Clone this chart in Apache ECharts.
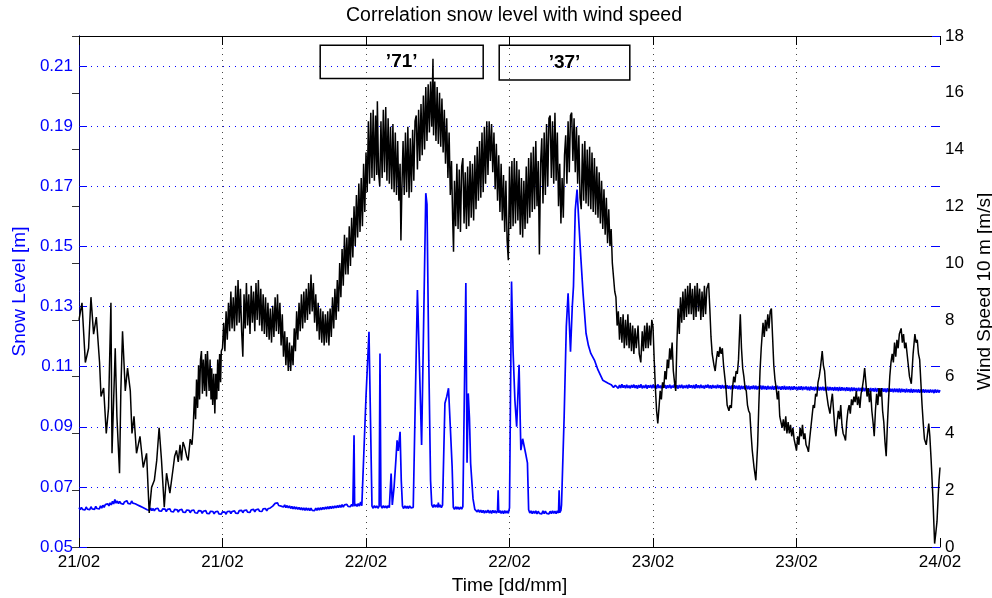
<!DOCTYPE html>
<html><head><meta charset="utf-8">
<script src="https://cdn.jsdelivr.net/npm/echarts/dist/echarts.min.js"></script>
<style>html,body{margin:0;padding:0;background:#fff;overflow:hidden}#c{width:992px;height:598px}</style>
</head><body><div id="c"></div>
<script>
// x axis: hours since 21/02 00:00
const xTickLabels = ['21/02','21/02','22/02','22/02','23/02','23/02','24/02'];

// Snow level [m] : [hour, value]
const snowLevel = [
[0,0.0631],[0.1,0.0624],[0.2,0.0632],[0.3,0.0625],[0.4,0.0630],[0.5,0.0623],[0.6,0.0633],[0.7,0.0626],[0.8,0.0631],[0.9,0.0624],[1,0.0634],[1.1,0.0627],[1.2,0.0632],[1.3,0.0625],[1.4,0.0635],[1.5,0.0628],[1.6,0.0633],[1.7,0.0627],[1.8,0.0637],[1.9,0.0629],
[2,0.0639],[2.1,0.0632],[2.2,0.0641],[2.3,0.0635],[2.4,0.0644],[2.5,0.0637],[2.6,0.0647],[2.7,0.0640],[2.8,0.0652],[2.9,0.0643],[3,0.0658],[3.1,0.0646],[3.2,0.0653],[3.3,0.0644],[3.4,0.0652],[3.5,0.0645],[3.6,0.0651],[3.7,0.0642],[3.8,0.0650],[3.9,0.0644],
[4,0.0654],[4.1,0.0645],[4.2,0.0651],[4.3,0.0643],[4.4,0.0653],[4.5,0.0646],[4.6,0.0652],[4.7,0.0644],[4.8,0.0648],[4.9,0.0640],[5,0.0645],[5.1,0.0636],[5.2,0.0640],[5.3,0.0632],[5.4,0.0637],[5.5,0.0628],[5.6,0.0633],[5.7,0.0624],[5.8,0.0630],[5.9,0.0622],
[6,0.0629],[6.1,0.0621],[6.2,0.0628],[6.3,0.0620],[6.4,0.0627],[6.5,0.0622],[6.6,0.0629],[6.7,0.0620],[6.8,0.0626],[6.9,0.0619],[7,0.0627],[7.1,0.0621],[7.2,0.0626],[7.3,0.0618],[7.4,0.0625],[7.5,0.0620],[7.6,0.0627],[7.7,0.0618],[7.8,0.0624],[7.9,0.0617],
[8,0.0625],[8.1,0.0619],[8.2,0.0624],[8.3,0.0616],[8.4,0.0623],[8.5,0.0618],[8.6,0.0625],[8.7,0.0616],[8.8,0.0622],[8.9,0.0615],[9,0.0623],[9.1,0.0617],[9.2,0.0622],[9.3,0.0614],[9.4,0.0621],[9.5,0.0616],[9.6,0.0623],[9.7,0.0614],[9.8,0.0620],[9.9,0.0613],
[10,0.0621],[10.1,0.0615],[10.2,0.0620],[10.3,0.0612],[10.4,0.0619],[10.5,0.0614],[10.6,0.0621],[10.7,0.0612],[10.8,0.0618],[10.9,0.0611],[11,0.0619],[11.1,0.0613],[11.2,0.0618],[11.3,0.0610],[11.4,0.0617],[11.5,0.0612],[11.6,0.0619],[11.7,0.0610],[11.8,0.0616],[11.9,0.0609],
[12,0.0617],[12.1,0.0611],[12.2,0.0616],[12.3,0.0609],[12.4,0.0618],[12.5,0.0612],[12.6,0.0619],[12.7,0.0611],[12.8,0.0618],[12.9,0.0612],[13,0.0620],[13.1,0.0613],[13.2,0.0619],[13.3,0.0612],[13.4,0.0621],[13.5,0.0615],[13.6,0.0622],[13.7,0.0614],[13.8,0.0621],[13.9,0.0615],
[14,0.0623],[14.1,0.0616],[14.2,0.0622],[14.3,0.0615],[14.4,0.0624],[14.5,0.0618],[14.6,0.0625],[14.7,0.0617],[14.8,0.0624],[14.9,0.0618],[15,0.0626],[15.1,0.0619],[15.2,0.0625],[15.3,0.0618],[15.4,0.0627],[15.5,0.0621],[15.6,0.0628],[15.7,0.0620],[15.8,0.0627],[15.9,0.0621],
[16,0.0630],[16.1,0.0627],[16.2,0.0636],[16.3,0.0633],[16.4,0.0645],[16.5,0.0640],[16.6,0.0647],[16.7,0.0638],[16.8,0.0644],[16.9,0.0636],[17,0.0642],[17.1,0.0633],[17.2,0.0640],[17.3,0.0631],[17.4,0.0638],[17.5,0.0630],[17.6,0.0637],[17.7,0.0628],[17.8,0.0635],[17.9,0.0627],
[18,0.0634],[18.1,0.0626],[18.2,0.0633],[18.3,0.0625],[18.4,0.0632],[18.5,0.0624],[18.6,0.0631],[18.7,0.0623],[18.8,0.0630],[18.9,0.0622],[19,0.0630],[19.1,0.0622],[19.2,0.0629],[19.3,0.0621],[19.4,0.0629],[19.5,0.0622],[19.6,0.0628],[19.7,0.0621],[19.8,0.0629],[19.9,0.0622],
[20,0.0630],[20.1,0.0623],[20.2,0.0631],[20.3,0.0624],[20.4,0.0632],[20.5,0.0625],[20.6,0.0633],[20.7,0.0626],[20.8,0.0634],[20.9,0.0627],[21,0.0635],[21.1,0.0628],[21.2,0.0636],[21.3,0.0629],[21.4,0.0637],[21.5,0.0630],[21.6,0.0638],[21.7,0.0631],[21.8,0.0639],[21.9,0.0632],
[22,0.0641],[22.1,0.0633],[22.2,0.0640],[22.3,0.0634],[22.4,0.0642],[22.5,0.0635],[22.6,0.0641],[22.7,0.0634],[22.8,0.0642],[22.9,0.0635],[23.0,0.0872],[23.05,0.0636],[23.15,0.0643],[23.25,0.0635],[23.35,0.0644],[23.45,0.0636],[23.55,0.0650],[23.65,0.0637],[23.72,0.0642],
[24.0,0.1000],[24.25,0.1216],[24.5,0.0636],[24.6,0.0629],[24.7,0.0638],[24.8,0.0630],[24.9,0.0637],[25.0,0.0629],[25.1,0.0636],[25.17,0.1144],[25.25,0.0637],[25.35,0.0629],[25.45,0.0638],[25.55,0.0630],[25.65,0.0637],[25.75,0.0629],[25.85,0.0638],[25.95,0.0631],[26.05,0.0636],[26.1,0.0744],[26.2,0.0640],[26.35,0.0700],[26.5,0.0790],[26.6,0.0855],[26.7,0.0820],[26.85,0.0883],[26.95,0.0720],[27.05,0.0636],[27.15,0.0628],[27.25,0.0637],[27.35,0.0629],[27.45,0.0636],[27.55,0.0628],[27.65,0.0637],[27.75,0.0630],[27.85,0.0636],[27.95,0.0632],
[28.3,0.1355],[28.65,0.0839],[29.0,0.1677],[29.1,0.1640],[29.25,0.1120],[29.4,0.0720],[29.5,0.0640],[29.6,0.0632],[29.7,0.0641],[29.8,0.0633],[29.9,0.0640],[30.0,0.0632],[30.05,0.0648],[30.1,0.0633],[30.2,0.0640],[30.3,0.0631],[30.4,0.0639],[30.47,0.0634],[30.6,0.0978],[30.75,0.1000],[30.9,0.1028],[31.05,0.0900],[31.2,0.0770],[31.3,0.0632],[31.4,0.0625],[31.5,0.0634],[31.6,0.0626],[31.7,0.0633],[31.8,0.0625],[31.9,0.0633],[32.0,0.0626],[32.1,0.0634],[32.15,0.0640],
[32.35,0.1378],[32.45,0.0780],[32.55,0.1011],[32.65,0.0930],[32.75,0.0778],[32.95,0.0660],[33.1,0.0625],[33.2,0.0626],[33.3,0.0617],[33.4,0.0624],[33.5,0.0615],[33.6,0.0623],[33.7,0.0614],[33.8,0.0622],[33.9,0.0613],[34.0,0.0621],[34.1,0.0614],[34.2,0.0623],[34.3,0.0613],[34.4,0.0621],[34.5,0.0612],[34.6,0.0622],[34.7,0.0614],[34.8,0.0621],[34.9,0.0613],[35.0,0.0620],[35.05,0.0689],[35.1,0.0614],[35.2,0.0621],[35.3,0.0612],[35.4,0.0620],[35.5,0.0611],[35.6,0.0621],[35.7,0.0613],[35.8,0.0620],[35.9,0.0612],[36.0,0.0630],
[36.17,0.1383],[36.3,0.1150],[36.45,0.0989],[36.6,0.0900],[36.8,0.1106],[36.95,0.0822],[37.1,0.0860],[37.35,0.0811],[37.5,0.0780],[37.6,0.0624],[37.7,0.0613],[37.8,0.0620],[37.9,0.0611],[38.0,0.0619],[38.1,0.0612],[38.2,0.0620],[38.3,0.0610],[38.4,0.0619],[38.5,0.0612],[38.6,0.0618],[38.7,0.0610],[38.8,0.0620],[38.9,0.0611],[39.0,0.0619],[39.1,0.0612],[39.2,0.0618],[39.3,0.0610],[39.4,0.0619],[39.5,0.0611],[39.6,0.0620],[39.7,0.0612],[39.8,0.0619],[39.9,0.0611],[40.0,0.0620],[40.1,0.0613],[40.15,0.0689],[40.2,0.0614],[40.3,0.0622],[40.35,0.0640],
[40.57,0.0933],[40.75,0.1233],[40.9,0.1344],[41.1,0.1150],[41.25,0.1300],[41.35,0.1367],[41.5,0.1622],[41.65,0.1689],[41.8,0.1580],[41.96,0.1466],[42.15,0.1344],[42.4,0.1211],[42.6,0.1170],[42.8,0.1144],[43.1,0.1122],[43.4,0.1089],[43.8,0.1055],[44.25,0.1045],[44.5,0.1040],[44.7,0.1031],[44.85,0.1038],
[45.0,0.1040],[45.1,0.1028],[45.2,0.1039],[45.3,0.1029],[45.4,0.1041],[45.5,0.1030],[45.6,0.1038],[45.7,0.1028],[45.8,0.1040],[45.9,0.1029],[46.0,0.1037],[46.1,0.1028],[46.2,0.1039],[46.3,0.1030],[46.4,0.1040],[46.5,0.1029],[46.6,0.1038],[46.7,0.1027],[46.8,0.1039],[46.9,0.1030],
[47.0,0.1041],[47.1,0.1028],[47.2,0.1037],[47.3,0.1029],[47.4,0.1040],[47.5,0.1027],[47.6,0.1038],[47.7,0.1030],[47.8,0.1039],[47.9,0.1028],[48.0,0.1040],[48.1,0.1029],[48.2,0.1038],[48.3,0.1027],[48.4,0.1041],[48.5,0.1029],[48.6,0.1037],[48.7,0.1028],[48.8,0.1040],[48.9,0.1030],
[49.0,0.1039],[49.1,0.1027],[49.2,0.1038],[49.3,0.1029],[49.4,0.1040],[49.5,0.1028],[49.6,0.1037],[49.7,0.1030],[49.8,0.1041],[49.9,0.1028],[50.0,0.1038],[50.1,0.1027],[50.2,0.1039],[50.3,0.1029],[50.4,0.1040],[50.5,0.1028],[50.6,0.1037],[50.7,0.1029],[50.8,0.1039],[50.9,0.1027],
[51.0,0.1040],[51.1,0.1030],[51.2,0.1038],[51.3,0.1028],[51.4,0.1039],[51.5,0.1027],[51.6,0.1041],[51.7,0.1029],[51.8,0.1038],[51.9,0.1028],[52.0,0.1040],[52.1,0.1029],[52.2,0.1037],[52.3,0.1027],[52.4,0.1039],[52.5,0.1030],[52.6,0.1040],[52.7,0.1028],[52.8,0.1038],[52.9,0.1027],
[53.0,0.1039],[53.1,0.1029],[53.2,0.1037],[53.3,0.1028],[53.4,0.1040],[53.5,0.1029],[53.6,0.1038],[53.7,0.1027],[53.8,0.1039],[53.9,0.1028],[54.0,0.1037],[54.1,0.1026],[54.2,0.1038],[54.3,0.1027],[54.4,0.1036],[54.5,0.1025],[54.6,0.1037],[54.7,0.1026],[54.8,0.1038],[54.9,0.1027],
[55.0,0.1036],[55.1,0.1025],[55.2,0.1037],[55.3,0.1024],[55.4,0.1036],[55.5,0.1026],[55.6,0.1035],[55.7,0.1024],[55.8,0.1037],[55.9,0.1025],[56.0,0.1036],[56.1,0.1024],[56.2,0.1035],[56.3,0.1026],[56.4,0.1037],[56.5,0.1025],[56.6,0.1036],[56.7,0.1024],[56.8,0.1035],[56.9,0.1025],
[57.0,0.1037],[57.1,0.1024],[57.2,0.1036],[57.3,0.1025],[57.4,0.1035],[57.5,0.1023],[57.6,0.1036],[57.7,0.1025],[57.8,0.1034],[57.9,0.1024],[58.0,0.1036],[58.1,0.1023],[58.2,0.1035],[58.3,0.1024],[58.4,0.1036],[58.5,0.1025],[58.6,0.1034],[58.7,0.1023],[58.8,0.1035],[58.9,0.1024],
[59.0,0.1036],[59.1,0.1023],[59.2,0.1034],[59.3,0.1024],[59.4,0.1035],[59.5,0.1022],[59.6,0.1034],[59.7,0.1023],[59.8,0.1035],[59.9,0.1024],[60.0,0.1033],[60.1,0.1022],[60.2,0.1034],[60.3,0.1023],[60.4,0.1035],[60.5,0.1022],[60.6,0.1033],[60.7,0.1024],[60.8,0.1034],[60.9,0.1022],
[61.0,0.1033],[61.1,0.1021],[61.2,0.1034],[61.3,0.1023],[61.4,0.1032],[61.5,0.1021],[61.6,0.1033],[61.7,0.1022],[61.8,0.1034],[61.9,0.1021],[62.0,0.1032],[62.1,0.1022],[62.2,0.1033],[62.3,0.1021],[62.4,0.1032],[62.5,0.1020],[62.6,0.1033],[62.7,0.1021],[62.8,0.1032],[62.9,0.1022],
[63.0,0.1031],[63.1,0.1020],[63.2,0.1032],[63.3,0.1021],[63.4,0.1031],[63.5,0.1019],[63.6,0.1032],[63.7,0.1020],[63.8,0.1031],[63.9,0.1021],[64.0,0.1030],[64.1,0.1019],[64.2,0.1031],[64.3,0.1020],[64.4,0.1030],[64.5,0.1018],[64.6,0.1031],[64.7,0.1019],[64.8,0.1030],[64.9,0.1020],
[65.0,0.1029],[65.1,0.1018],[65.2,0.1030],[65.3,0.1019],[65.4,0.1029],[65.5,0.1017],[65.6,0.1030],[65.7,0.1018],[65.8,0.1029],[65.9,0.1019],[66.0,0.1028],[66.1,0.1017],[66.2,0.1029],[66.3,0.1018],[66.4,0.1028],[66.5,0.1017],[66.6,0.1029],[66.7,0.1016],[66.8,0.1028],[66.9,0.1018],
[67.0,0.1027],[67.1,0.1016],[67.2,0.1028],[67.3,0.1017],[67.4,0.1027],[67.5,0.1015],[67.6,0.1028],[67.7,0.1016],[67.8,0.1027],[67.9,0.1017],[68.0,0.1026],[68.1,0.1015],[68.2,0.1027],[68.3,0.1016],[68.4,0.1026],[68.5,0.1015],[68.6,0.1027],[68.7,0.1014],[68.8,0.1026],[68.9,0.1016],
[69.0,0.1025],[69.1,0.1014],[69.2,0.1026],[69.3,0.1015],[69.4,0.1025],[69.5,0.1014],[69.6,0.1026],[69.7,0.1013],[69.8,0.1025],[69.9,0.1015],[70.0,0.1024],[70.1,0.1014],[70.2,0.1025],[70.3,0.1013],[70.4,0.1024],[70.5,0.1014],[70.6,0.1025],[70.7,0.1013],[70.8,0.1024],[70.9,0.1014],
[71.0,0.1023],[71.1,0.1013],[71.2,0.1024],[71.3,0.1014],[71.4,0.1023],[71.5,0.1012],[71.6,0.1024],[71.7,0.1013],[71.8,0.1023],[71.9,0.1014],[72.0,0.1022]
];

// Wind speed 10 m [m/s] : [hour, value]
const windSpeed = [
[0,8.0],[0.25,8.6],[0.53,6.5],[0.8,7.0],[1.0,8.8],[1.22,7.5],[1.45,8.1],[1.72,6.5],[1.84,5.3],[2.06,5.6],[2.28,4.0],[2.47,4.9],[2.67,8.6],[2.76,3.3],[3.03,7.0],[3.17,4.6],[3.39,2.6],[3.5,5.5],[3.64,7.6],[3.87,5.5],[4.06,6.3],[4.29,5.5],[4.43,4.0],[4.6,4.6],[4.81,3.3],[5.1,3.9],[5.37,2.8],[5.65,3.3],[5.87,1.2],[6.07,2.1],[6.3,2.35],[6.5,3.05],[6.7,4.2],[6.9,3.05],[7.13,1.4],[7.32,2.6],[7.6,1.9],[7.88,2.8],[8.0,3.2],[8.15,3.4],[8.3,3.0],[8.45,3.6],[8.57,3.05],[8.7,3.7],[8.85,3.5],[9.0,3.2],[9.13,3.05],[9.3,3.8],[9.45,3.6],
[9.55,4.2],[9.65,5.3],[9.75,4.5],[9.83,5.9],[9.92,4.9],[10.0,6.4],[10.08,5.2],[10.16,6.6],[10.24,6.9],[10.32,5.4],[10.4,6.6],[10.5,5.5],[10.58,6.8],[10.66,5.3],[10.74,6.9],[10.8,6.9],[10.88,5.5],[10.96,6.6],[11.04,5.2],[11.1,6.3],[11.18,5.0],[11.27,6.1],[11.36,4.7],[11.44,6.1],[11.52,5.2],[11.6,6.6],[11.68,5.5],[11.76,6.8],[11.84,5.8],[11.9,6.9],
[12.0,7.0],[12.1,7.9],[12.2,6.9],[12.3,8.3],[12.4,7.3],[12.5,8.6],[12.6,7.6],[12.7,9.0],[12.8,7.7],[12.9,8.8],[13.0,7.6],[13.1,9.2],[13.2,7.8],[13.3,9.4],[13.4,7.9],[13.5,9.1],[13.6,7.6],[13.7,6.7],[13.8,8.9],[13.9,7.7],[14.0,9.3],[14.1,7.8],[14.2,8.9],[14.3,7.5],[14.4,9.2],[14.5,7.9],[14.6,9.0],[14.7,7.6],[14.8,9.3],[14.9,8.0],
[15.0,9.4],[15.1,7.8],[15.2,9.1],[15.3,7.6],[15.4,8.9],[15.5,7.5],[15.6,8.8],[15.7,7.4],[15.8,8.6],[15.9,7.3],[16.0,8.4],[16.1,7.2],[16.2,8.5],[16.3,7.4],[16.4,8.8],[16.5,7.6],[16.6,8.9],[16.7,7.5],[16.8,8.6],[16.9,7.1],[17.0,8.2],[17.1,6.7],[17.2,7.6],[17.3,6.4],[17.4,7.4],[17.5,6.2],[17.6,7.2],[17.7,6.2],[17.8,7.1],[17.9,6.4],
[18.0,7.7],[18.1,6.9],[18.2,8.3],[18.3,7.3],[18.4,8.6],[18.5,7.6],[18.6,8.9],[18.7,7.7],[18.8,9.0],[18.9,7.9],[19.0,9.1],[19.1,8.0],[19.2,9.3],[19.3,8.2],[19.4,9.6],[19.5,8.3],[19.6,9.3],[19.7,7.9],[19.8,8.9],[19.9,7.6],[20.0,8.6],[20.1,7.3],[20.2,8.4],[20.3,7.2],[20.4,8.3],[20.5,7.1],[20.6,8.2],[20.7,7.2],[20.8,8.3],[20.9,7.1],
[21.0,8.4],[21.1,7.4],[21.2,8.8],[21.3,7.7],[21.4,9.1],[21.5,8.0],[21.6,9.4],[21.7,8.3],[21.8,10.0],[21.9,8.8],[22.0,10.5],[22.1,9.2],[22.2,11.0],[22.3,9.6],[22.4,10.9],[22.5,9.6],[22.6,11.3],[22.7,9.9],[22.8,11.6],[22.9,10.2],[23.0,12.0],[23.1,10.6],[23.2,12.4],[23.3,10.9],[23.4,12.8],[23.5,11.1],[23.6,13.0],[23.7,11.3],[23.8,13.5],[23.9,11.8],
[24.0,13.9],[24.1,12.5],[24.2,15.0],[24.3,12.8],[24.4,15.3],[24.5,13.0],[24.6,15.4],[24.7,12.9],[24.8,15.2],[24.9,13.1],[24.95,15.7],[25.05,13.2],[25.15,12.7],[25.25,15.0],[25.35,13.0],[25.45,15.4],[25.55,13.2],[25.65,15.5],[25.75,12.9],[25.85,15.1],[25.95,12.8],[26.05,14.8],[26.15,12.6],[26.25,14.9],[26.35,12.5],[26.45,14.6],[26.55,12.4],[26.65,14.3],[26.75,12.2],[26.85,13.5],[26.92,10.8],
[27.0,12.6],[27.1,14.3],[27.2,12.4],[27.3,14.6],[27.4,12.5],[27.5,14.8],[27.6,12.3],[27.7,14.4],[27.8,12.5],[27.9,14.7],[28.0,12.9],[28.1,15.0],[28.2,15.2],[28.3,13.3],[28.4,15.4],[28.5,13.6],[28.6,15.6],[28.7,13.8],[28.8,15.9],[28.9,14.0],[29.0,16.2],[29.1,14.3],[29.2,16.3],[29.3,14.6],[29.4,16.4],[29.5,14.8],[29.6,17.2],[29.65,14.5],[29.75,16.4],[29.85,14.3],[29.95,16.2],
[30.05,14.2],[30.15,16.0],[30.25,14.1],[30.35,15.8],[30.45,13.9],[30.55,15.4],[30.65,13.5],[30.75,15.1],[30.85,13.0],[30.95,14.6],[31.05,12.4],[31.15,13.6],[31.25,11.5],[31.32,10.4],[31.4,12.9],[31.5,11.3],[31.6,13.5],[31.7,11.2],[31.8,13.3],[31.9,11.1],
[32.0,13.4],[32.1,13.7],[32.2,11.4],[32.3,13.2],[32.4,11.2],[32.5,13.4],[32.6,11.3],[32.7,13.6],[32.8,11.6],[32.9,13.5],[33.0,11.5],[33.1,13.8],[33.2,11.9],[33.3,14.1],[33.4,12.2],[33.5,14.3],[33.6,12.3],[33.7,14.6],[33.8,12.5],[33.9,14.8],
[34.0,12.8],[34.1,15.0],[34.2,13.1],[34.3,15.0],[34.4,13.6],[34.5,14.9],[34.6,13.2],[34.7,14.6],[34.8,12.6],[34.9,14.2],[35.0,12.2],[35.1,13.8],[35.2,11.8],[35.3,13.5],[35.4,11.5],[35.5,13.1],[35.6,11.1],[35.7,12.9],[35.8,10.8],[35.9,10.1],
[36.0,13.4],[36.1,11.2],[36.2,13.6],[36.3,11.3],[36.4,13.7],[36.5,11.4],[36.6,13.6],[36.7,11.5],[36.8,13.3],[36.9,11.0],[37.0,13.0],[37.1,10.9],[37.2,12.9],[37.3,11.2],[37.4,13.4],[37.5,11.4],[37.6,13.7],[37.7,11.6],[37.8,13.9],[37.9,11.8],
[38.0,14.1],[38.1,11.9],[38.2,14.3],[38.3,12.0],[38.4,13.6],[38.5,10.3],[38.6,13.5],[38.7,14.4],[38.8,12.1],[38.9,14.6],[39.0,12.4],[39.1,14.9],[39.2,12.7],[39.3,15.1],[39.4,15.2],[39.5,13.0],[39.6,15.0],[39.7,12.8],[39.8,15.3],[39.9,12.9],
[40.0,14.6],[40.1,12.0],[40.2,13.5],[40.3,11.4],[40.4,13.0],[40.5,11.6],[40.6,13.8],[40.7,14.5],[40.8,12.8],[40.9,15.0],[41.0,13.2],[41.1,15.2],[41.2,15.3],[41.3,13.6],[41.4,15.1],[41.5,13.2],[41.6,14.8],[41.7,12.8],[41.8,14.5],[41.9,12.3],
[42.0,11.9],[42.1,14.2],[42.2,12.2],[42.3,14.3],[42.4,12.1],[42.5,14.0],[42.6,12.0],[42.7,14.1],[42.8,11.9],[42.9,13.9],[43.0,11.8],[43.1,13.7],[43.2,11.7],[43.3,13.4],[43.4,11.6],[43.5,13.2],[43.6,11.4],[43.7,12.9],[43.8,11.2],[43.9,12.6],
[44.0,11.0],[44.1,12.3],[44.2,10.7],[44.3,11.9],[44.4,10.6],[44.5,11.2],[44.6,10.0],[44.7,10.0],[44.8,9.0],[44.9,8.8],
[45.0,7.8],[45.1,8.3],[45.2,7.3],[45.3,8.1],[45.4,7.2],[45.5,8.2],[45.6,7.0],[45.7,8.0],[45.8,7.1],[45.9,8.2],[46.0,7.0],[46.1,7.9],[46.2,6.9],[46.3,7.8],[46.4,6.8],[46.5,7.7],[46.6,7.0],[46.75,7.8],[46.85,6.8],[46.98,6.5],[47.1,7.6],[47.2,6.9],[47.3,7.8],[47.4,7.0],[47.5,7.9],[47.6,7.0],[47.7,7.8],[47.8,7.1],[47.9,8.0],[48.0,7.75],
[48.1,6.6],[48.2,5.6],[48.3,4.8],[48.4,4.35],[48.5,4.9],[48.6,5.5],[48.7,5.2],[48.8,5.8],[48.9,5.6],[49.0,6.2],[49.1,5.9],[49.2,6.6],[49.3,6.3],[49.4,7.0],[49.5,6.6],[49.6,7.2],[49.7,6.2],[49.8,5.8],[49.9,5.5],
[50.0,7.2],[50.1,8.4],[50.2,7.5],[50.3,8.8],[50.4,7.9],[50.5,9.0],[50.6,8.0],[50.7,9.1],[50.8,8.1],[50.9,9.2],[51.0,8.2],[51.1,9.3],[51.2,8.2],[51.3,9.1],[51.4,8.0],[51.5,9.2],[51.6,8.1],[51.7,9.3],[51.8,8.3],[51.9,9.1],[52.0,8.0],[52.1,9.0],[52.2,8.1],[52.3,9.2],[52.4,8.2],[52.5,9.1],[52.65,9.3],[52.75,8.4],[52.85,7.4],[52.95,6.8],
[53.1,6.4],[53.2,6.2],[53.3,6.6],[53.4,6.9],[53.5,6.7],[53.6,7.05],[53.7,6.8],[53.8,7.0],[53.9,6.4],[54.0,6.0],[54.1,5.6],[54.2,5.0],[54.35,4.8],[54.45,5.0],[54.55,4.9],[54.65,5.6],[54.75,6.0],[54.85,5.8],[54.95,6.2],[55.05,6.1],[55.15,6.6],[55.3,8.2],[55.4,7.0],[55.5,6.3],[55.6,6.0],[55.7,5.6],[55.8,5.5],[55.9,5.0],
[56.0,4.8],[56.1,4.7],[56.2,4.0],[56.3,3.4],[56.45,2.8],[56.6,2.35],[56.75,3.6],[56.85,5.0],[56.95,6.2],[57.05,7.0],[57.2,7.9],[57.3,7.4],[57.4,8.0],[57.5,7.6],[57.6,8.2],[57.7,7.7],[57.8,8.3],[57.9,8.4],[58.0,7.4],[58.1,6.4],[58.2,5.9],[58.3,5.6],[58.4,5.2],[58.5,5.5],[58.6,4.6],[58.7,4.4],[58.8,4.2],[58.9,4.5],
[59.0,4.1],[59.1,4.6],[59.2,4.0],[59.3,4.4],[59.4,4.0],[59.5,4.3],[59.6,3.9],[59.7,4.2],[59.8,3.8],[59.9,3.75],[60.0,3.4],[60.1,3.9],[60.2,3.6],[60.3,4.2],[60.4,3.9],[60.5,4.3],[60.6,3.8],[60.7,4.0],[60.8,3.6],[60.9,3.5],
[61.0,3.35],[61.1,3.8],[61.2,4.2],[61.3,4.6],[61.4,5.0],[61.5,4.9],[61.6,5.4],[61.7,5.3],[61.8,5.8],[61.9,6.0],[62.0,6.3],[62.15,6.9],[62.25,6.4],[62.35,6.2],[62.45,5.6],[62.55,5.3],[62.65,5.0],[62.8,4.7],[62.9,5.1],
[63.0,5.4],[63.1,4.8],[63.2,4.2],[63.3,3.9],[63.4,4.4],[63.5,4.8],[63.6,4.5],[63.7,5.0],[63.8,4.3],[63.9,4.0],[64.0,3.9],[64.1,3.75],[64.2,4.4],[64.3,4.8],[64.4,5.0],[64.5,4.7],[64.6,5.2],[64.7,5.0],[64.8,5.3],[64.9,5.1],
[65.0,5.5],[65.1,5.0],[65.2,5.3],[65.3,4.9],[65.4,5.4],[65.5,5.6],[65.6,5.9],[65.7,6.3],[65.8,5.8],[65.9,5.3],[66.0,5.6],[66.1,5.1],[66.2,5.5],[66.3,4.8],[66.4,4.4],[66.5,3.9],[66.6,4.8],[66.7,5.4],[66.8,5.0],[66.9,5.6],
[67.0,5.3],[67.1,5.6],[67.2,4.8],[67.3,4.4],[67.4,3.7],[67.5,3.2],[67.6,4.3],[67.7,5.2],[67.8,6.0],[67.9,6.5],[68.0,6.8],[68.1,6.5],[68.2,7.2],[68.3,6.7],[68.4,7.3],[68.5,7.0],[68.6,7.5],[68.75,7.7],[68.85,7.2],[68.95,7.5],
[69.05,7.0],[69.15,7.2],[69.25,6.8],[69.35,6.4],[69.45,6.0],[69.6,5.75],[69.75,6.8],[69.9,7.5],[70.0,7.2],[70.1,7.3],[70.2,6.8],[70.3,6.6],[70.4,5.8],[70.5,5.0],[70.6,4.35],[70.7,3.8],[70.85,3.6],
[71.06,4.35],[71.15,3.9],[71.26,3.05],[71.4,1.8],[71.55,0.12],[71.65,0.5],[71.75,0.9],[71.85,1.8],[71.92,2.35],[72.0,2.8]
];

// Annotation boxes in data units (hour, wind speed)
const annotations = [
  {label: '\u201971\u2019', from: [20.17, 17.67], to: [33.8, 16.5]},
  {label: '\u201937\u2019', from: [35.14, 17.67], to: [46.06, 16.45]}
];

const FONT = '"Liberation Sans", Arial, Helvetica, sans-serif';
const BLUE = '#0000ff';

const chart = echarts.init(document.getElementById('c'), null, {renderer: 'canvas'});
chart.setOption({
  animation: false,
  backgroundColor: '#fff',
  title: {
    text: 'Correlation snow level with wind speed',
    left: 509, top: 1, textAlign: 'center',
    textStyle: {fontFamily: FONT, fontSize: 19.5, fontWeight: 'normal', color: '#000'}
  },
  grid: {left: 79, right: 52, top: 36, bottom: 51, containLabel: false, outerBoundsMode: 'none'},
  xAxis: [
    {
      type: 'value', min: 0, max: 72, interval: 12, position: 'bottom',
      name: 'Time [dd/mm]', nameLocation: 'middle', nameGap: 22,
      nameTextStyle: {fontFamily: FONT, fontSize: 19, color: '#000'},
      axisLine: {lineStyle: {color: '#000', width: 1}},
      axisTick: {inside: true, length: 9, lineStyle: {color: '#000'}},
      axisLabel: {margin: 7, fontFamily: FONT, fontSize: 17, color: '#000',
        formatter: v => xTickLabels[Math.round(v / 12)]},
      splitLine: {show: true, showMinLine: false, showMaxLine: false,
        lineStyle: {color: '#444', type: [1, 5], width: 1}}
    },
    {
      type: 'value', min: 0, max: 72, interval: 12, position: 'top',
      axisLine: {lineStyle: {color: '#000', width: 1}},
      axisTick: {inside: true, length: 9, lineStyle: {color: '#000'}},
      axisLabel: {show: false}, splitLine: {show: false}
    }
  ],
  yAxis: [
    {
      type: 'value', min: 0.05, max: 0.22, interval: 0.02, position: 'left',
      name: 'Snow Level [m]', nameLocation: 'middle', nameGap: 46,
      nameTextStyle: {fontFamily: FONT, fontSize: 19, color: BLUE},
      axisLine: {show: true, lineStyle: {color: BLUE, width: 1}},
      axisTick: {show: true, inside: true, length: 8, lineStyle: {color: BLUE}},
      axisLabel: {color: BLUE, fontFamily: FONT, fontSize: 17, margin: 6,
        showMaxLabel: false, formatter: v => v.toFixed(2)},
      splitLine: {show: true, showMinLine: false, showMaxLine: false,
        lineStyle: {color: BLUE, type: [1, 5], width: 1}}
    },
    {
      type: 'value', min: 0, max: 18, interval: 2, position: 'right',
      name: 'Wind Speed 10 m [m/s]', nameLocation: 'middle', nameRotate: 90, nameGap: 32,
      nameTextStyle: {fontFamily: FONT, fontSize: 19, color: '#000'},
      axisLine: {show: true, lineStyle: {color: '#00006a', width: 1}},
      axisTick: {show: true, inside: true, length: 7, lineStyle: {color: '#333'}},
      axisLabel: {color: '#000', fontFamily: FONT, fontSize: 17, margin: 5},
      splitLine: {show: false}
    },
    {
      type: 'value', min: 0.05, max: 0.22, interval: 0.02, position: 'right',
      axisLine: {show: false},
      axisTick: {show: true, inside: true, length: 8, lineStyle: {color: BLUE}},
      axisLabel: {show: false}, splitLine: {show: false}
    }
  ],
  series: [
    {
      type: 'line', name: 'Snow level', xAxisIndex: 0, yAxisIndex: 0,
      data: snowLevel, symbol: 'none', showSymbol: false,
      lineStyle: {color: BLUE, width: 1.7}, z: 2
    },
    {
      type: 'line', name: 'Wind speed', xAxisIndex: 0, yAxisIndex: 1,
      data: windSpeed, symbol: 'none', showSymbol: false,
      lineStyle: {color: '#000', width: 1.5}, z: 3,
      markArea: {
        silent: true,
        itemStyle: {color: 'rgba(0,0,0,0)', borderColor: '#000', borderWidth: 1.5},
        label: {show: true, position: 'inside', fontFamily: FONT, fontSize: 19,
          fontWeight: 'bold', color: '#000'},
        data: annotations.map(a => [{name: a.label, coord: a.from}, {coord: a.to}])
      }
    }
  ]
});
</script>
</body></html>
